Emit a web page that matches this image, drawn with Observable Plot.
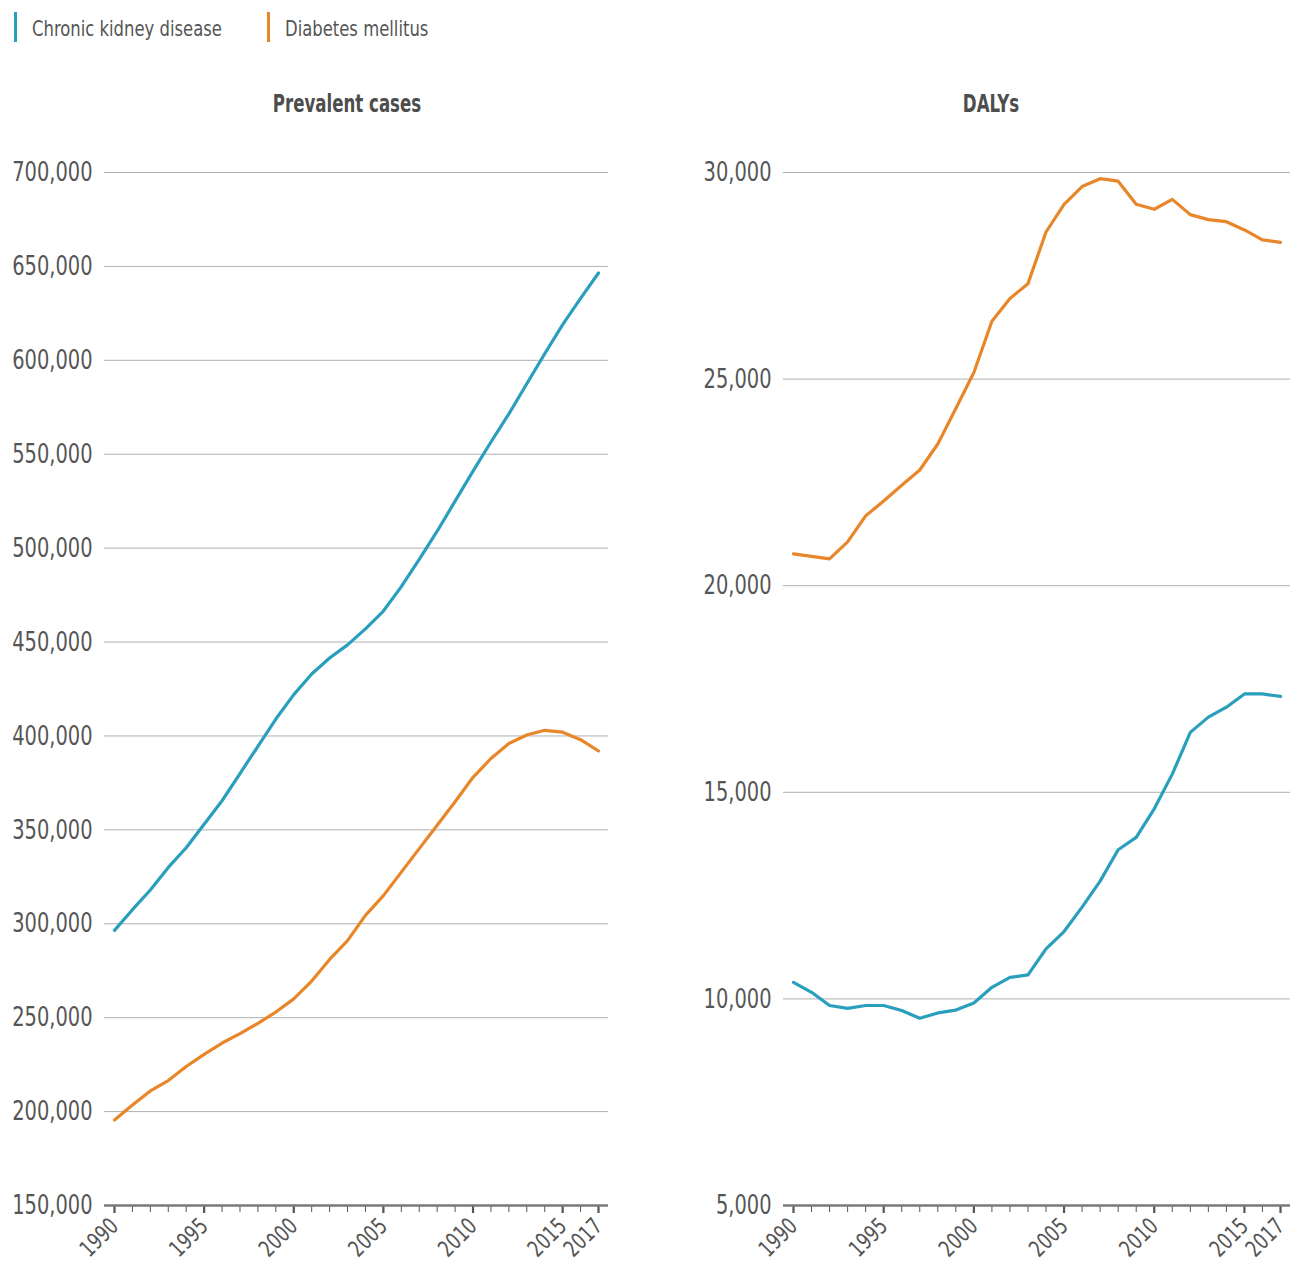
<!DOCTYPE html>
<html>
<head>
<meta charset="utf-8">
<script src="https://cdn.jsdelivr.net/npm/d3@7"></script>
<script src="https://cdn.jsdelivr.net/npm/@observablehq/plot@0.6"></script>
<style>
  html, body { margin: 0; padding: 0; background: #fff; }
  body { font-family: "DejaVu Sans Condensed", "DejaVu Sans", sans-serif; color: #555; }
  #root { position: relative; width: 1296px; height: 1262px; overflow: hidden; }
  .abs { position: absolute; }
  .leg-bar { position: absolute; top: 12px; width: 3px; height: 30px; }
  .leg-text { position: absolute; top: 15px; font-size: 22px; line-height: 28px; color: #555; white-space: nowrap; transform: scaleX(0.83); transform-origin: left center; }
  .title { position: absolute; top: 90px; font-size: 24px; font-weight: bold; color: #4d4d4d; white-space: nowrap; transform: translateX(-50%) scaleX(0.77); }
</style>
</head>
<body>
<div id="root"></div>
<script>
// ---------- data ----------
const years = [1990,1991,1992,1993,1994,1995,1996,1997,1998,1999,2000,2001,2002,2003,2004,2005,2006,2007,2008,2009,2010,2011,2012,2013,2014,2015,2016,2017];
const ckdPrevalent = [296500,307500,318000,330000,340500,353000,365500,380000,394500,409000,422000,433000,441500,448500,457000,466500,479500,494000,509000,525000,541000,556500,571500,587500,603500,619000,633000,646500];
const dmPrevalent = [195500,203500,211000,216500,224000,230500,236500,241500,247000,253000,260000,269500,281000,291000,304500,315000,327500,340000,352500,365000,378000,388000,396000,400500,403000,402000,398000,392000];
const ckdDalys = [10400,10160,9840,9770,9840,9840,9720,9530,9660,9730,9900,10280,10520,10580,11210,11630,12220,12850,13610,13910,14600,15440,16450,16820,17060,17380,17380,17320];
const dmDalys = [20770,20710,20650,21060,21690,22050,22430,22800,23430,24290,25160,26400,26950,27310,28560,29230,29660,29850,29790,29230,29110,29350,28980,28860,28810,28610,28370,28310];
const seriesNames = ["Chronic kidney disease", "Diabetes mellitus"];
const seriesColors = ["#2a9fbd", "#e8862a"];
const panelTitles = ["Prevalent cases", "DALYs"];
const prevalentTicks = [150000,200000,250000,300000,350000,400000,450000,500000,550000,600000,650000,700000];
const dalyTicks = [5000,10000,15000,20000,25000,30000];
const xLabelTicks = [1990,1995,2000,2005,2010,2015,2017];

const FONT = '"DejaVu Sans Condensed", "DejaVu Sans", sans-serif';
const root = document.getElementById("root");

// ---------- legend ----------
const legendLefts = [14, 267];
seriesNames.forEach((name, i) => {
  const bar = document.createElement("div");
  bar.className = "leg-bar";
  bar.style.left = legendLefts[i] + "px";
  bar.style.background = seriesColors[i];
  root.appendChild(bar);
  const txt = document.createElement("div");
  txt.className = "leg-text";
  txt.style.left = (legendLefts[i] + 18) + "px";
  txt.textContent = name;
  root.appendChild(txt);
});

// ---------- titles ----------
[347, 991].forEach((cx, i) => {
  const t = document.createElement("div");
  t.className = "title";
  t.style.left = cx + "px";
  t.textContent = panelTitles[i];
  root.appendChild(t);
});

function rows(vals, key) { return years.map((y, i) => ({year: y, value: vals[i], series: key})); }

function narrow(chart, selector, k) {
  chart.querySelectorAll(selector).forEach(t => {
    const tr = t.getAttribute("transform");
    if (tr) {
      t.setAttribute("transform", tr + ` scale(${k},1)`);
    } else {
      const x = +(t.getAttribute("x") || 0);
      t.removeAttribute("x");
      t.setAttribute("transform", `translate(${x},0) scale(${k},1)`);
    }
  });
}

function panel({ckd, dm, ticks, left, marginLeft, marginRight}) {
  const data = [...rows(ckd, seriesNames[0]), ...rows(dm, seriesNames[1])];
  const fmt = d3.format(",");
  const chart = Plot.plot({
    width: 648,
    height: 1132,
    marginTop: 42,
    marginBottom: 57,
    marginLeft,
    marginRight,
    style: {fontFamily: FONT, color: "#555", background: "transparent", overflow: "visible"},
    x: {domain: [1990, 2017], insetLeft: 10, insetRight: 10},
    y: {domain: [ticks[0], ticks[ticks.length - 1]]},
    color: {domain: seriesNames, range: seriesColors},
    marks: [
      Plot.ruleY(ticks.slice(1), {stroke: "#b0b0b0", strokeWidth: 1}),
      Plot.axisY({ticks, tickSize: 0, tickPadding: 12, tickFormat: fmt, fontSize: 27, label: null, fill: "#555"}),
      Plot.axisX({ticks: years, tickSize: 7, tickFormat: () => "", label: null, stroke: "#555", strokeWidth: 1}),
      Plot.axisX({ticks: xLabelTicks, tickSize: 8, tickRotate: -45, tickPadding: 9, tickFormat: d3.format("d"), fontSize: 23, label: null, stroke: "#555", strokeWidth: 2.2, fill: "#555"}),
      Plot.ruleY([ticks[0]], {stroke: "#7a7a7a", strokeWidth: 2.5}),
      Plot.line(data, {x: "year", y: "value", stroke: "series", strokeWidth: 3.2, curve: "linear"})
    ]
  });
  narrow(chart, 'g[aria-label="y-axis tick label"] text', 0.8);
  narrow(chart, 'g[aria-label="x-axis tick label"] text', 0.82);
  chart.classList.add("abs");
  chart.style.left = left + "px";
  chart.style.top = "130px";
  root.appendChild(chart);
}

panel({ckd: ckdPrevalent, dm: dmPrevalent, ticks: prevalentTicks, left: 0, marginLeft: 104, marginRight: 40});
panel({ckd: ckdDalys, dm: dmDalys, ticks: dalyTicks, left: 648, marginLeft: 135, marginRight: 6});
</script>
</body>
</html>
